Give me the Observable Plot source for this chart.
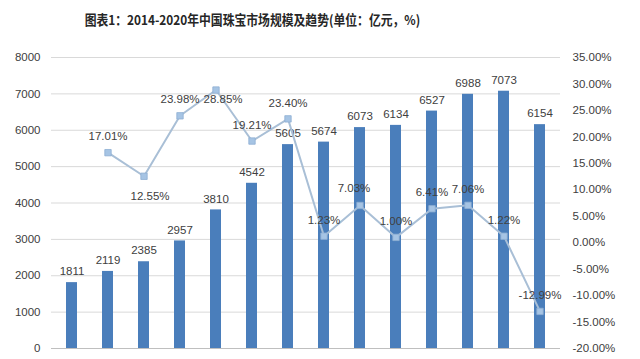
<!DOCTYPE html>
<html>
<head>
<meta charset="utf-8">
<script src="https://cdn.jsdelivr.net/npm/d3@7"></script>
<script src="https://cdn.jsdelivr.net/npm/@observablehq/plot@0.6"></script>
<style>
  html, body { margin: 0; padding: 0; background: #fff; }
  #wrap { position: relative; width: 640px; height: 359px; overflow: hidden; }
  #title { position: absolute; left: 0; top: 9px; width: 505px; text-align: center;
    font-family: "Noto Sans CJK SC", sans-serif; font-weight: bold; font-size: 13.5px; color: #262626;
    transform: scaleX(0.875); transform-origin: 252px 0; }
  #chart { position: absolute; left: 0; top: 40px; }
</style>
</head>
<body>
<div id="wrap">
  <div id="title">图表1：2014-2020年中国珠宝市场规模及趋势(单位：亿元，%)</div>
  <div id="chart"></div>
</div>
<script>
// ---- data ----
const years = ["2007","2008","2009","2010","2011","2012","2013","2014","2015","2016","2017","2018","2019","2020"];
const marketSize = [1811, 2119, 2385, 2957, 3810, 4542, 5605, 5674, 6073, 6134, 6527, 6988, 7073, 6154];
const growthRate = [null, 17.01, 12.55, 23.98, 28.85, 19.21, 23.40, 1.23, 7.03, 1.00, 6.41, 7.06, 1.22, -12.99];
const leftTicks = [0, 1000, 2000, 3000, 4000, 5000, 6000, 7000, 8000];
const rightTicks = [-20, -15, -10, -5, 0, 5, 10, 15, 20, 25, 30, 35];

// ---- secondary axis mapping (right % axis onto left value scale) ----
const LMAX = 8000, RMIN = -20, RMAX = 35;
const toLeft = v => (v - RMIN) / (RMAX - RMIN) * LMAX;
const fromLeft = y => y / LMAX * (RMAX - RMIN) + RMIN;

const bars = years.map((yr, i) => ({year: yr, value: marketSize[i]}));
const rates = years.map((yr, i) => ({year: yr, rate: growthRate[i]})).filter(d => d.rate !== null);

// label placement (style only): [dx, dy]
const labelOffset = {"2009": [6, 20], "2011": [7, 9], "2015": [-6, -17]};
const defaultOffset = [0, -16];

const font = "Liberation Sans, Arial, sans-serif";
const rateText = (subset, off) => Plot.text(subset, {
  x: "year", y: d => toLeft(d.rate), text: d => d.rate.toFixed(2) + "%",
  dx: off[0], dy: off[1], fill: "#404040", fontSize: 11.5
});

const plot = Plot.plot({
  width: 640,
  height: 319,
  marginTop: 17,
  marginBottom: 11,
  marginLeft: 51,
  marginRight: 80,
  style: {fontFamily: font, fontSize: "11px", color: "#404040", background: "transparent"},
  x: {domain: years, paddingInner: 0.7, paddingOuter: 0.35, axis: null},
  y: {domain: [0, LMAX], axis: null},
  marks: [
    Plot.gridY(leftTicks, {stroke: "#d9d9d9", strokeOpacity: 1}),
    Plot.ruleY([0], {stroke: "#bfbfbf"}),
    Plot.axisY(leftTicks, {anchor: "left", label: null, tickSize: 0, tickPadding: 11, fill: "#404040", fontSize: 11.5,
      tickFormat: d => String(d)}),
    Plot.axisY(rightTicks.map(toLeft), {anchor: "right", label: null, tickSize: 0, tickPadding: 12, fill: "#404040", fontSize: 11.5,
      tickFormat: d => Math.round(fromLeft(d)).toFixed(2) + "%"}),
    Plot.barY(bars, {x: "year", y: "value", fill: "#4a7ebb"}),
    Plot.text(bars, {x: "year", y: "value", text: d => String(d.value), dy: -11, fill: "#404040", fontSize: 11.5}),
    Plot.line(rates, {x: "year", y: d => toLeft(d.rate), stroke: "#a9bfd6", strokeWidth: 2}),
    Plot.dot(rates, {x: "year", y: d => toLeft(d.rate), symbol: "square", r: 3.6, fill: "#a6c4e4", stroke: "#8eaed3", strokeWidth: 0.8}),
    rateText(rates.filter(d => !(d.year in labelOffset)), defaultOffset),
    ...Object.entries(labelOffset).map(([yr, off]) => rateText(rates.filter(d => d.year === yr), off))
  ]
});
document.getElementById("chart").appendChild(plot);
</script>
</body>
</html>
